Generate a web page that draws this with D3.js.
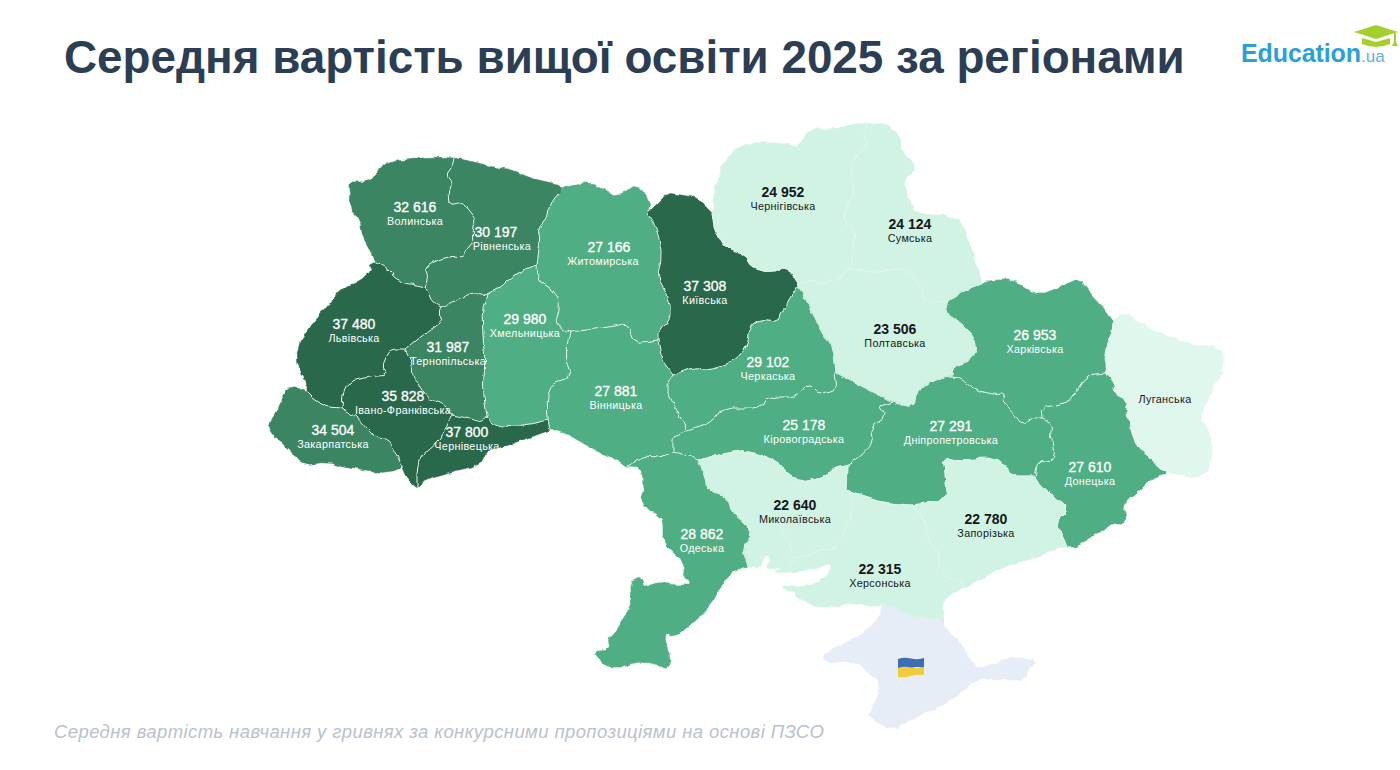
<!DOCTYPE html>
<html lang="uk">
<head>
<meta charset="utf-8">
<title>Середня вартість вищої освіти 2025 за регіонами</title>
<script src="https://cdn.jsdelivr.net/npm/d3@7/dist/d3.min.js"></script>
<style>
	html, body { margin: 0; padding: 0; background: #fff; }
	svg { display: block; font-family: "Liberation Sans", Arial, sans-serif; }
</style>
</head>
<body>
<svg id="chart" width="1400" height="770"></svg>
<script>
const regionNames = ["Волинська", "Рівненська", "Львівська", "Тернопільська", "Закарпатська", "Івано-Франківська", "Чернівецька", "Хмельницька", "Житомирська", "Вінницька", "Київська", "Чернігівська", "Сумська", "Полтавська", "Черкаська", "Кіровоградська", "Дніпропетровська", "Харківська", "Донецька", "Луганська", "Запорізька", "Херсонська", "Миколаївська", "Одеська"];
const regionCosts = [32616, 30197, 37480, 31987, 34504, 35828, 37800, 29980, 27166, 27881, 37308, 24952, 24124, 23506, 29102, 25178, 27291, 26953, 27610, null, 22780, 22315, 22640, 28862];

// map borders, shared between neighbours like topojson arcs
const arcs = {
	volOuter: [[454,158],[427,157],[417,159],[387,162],[377,173],[370,182],[346,182],[350,192],[349,208],[360,220],[363,237],[370,250],[375,262]],
	volLviv: [[375,262],[382,265],[392,272],[393,278],[403,283],[417,285],[425,287]],
	volRiv: [[425,287],[428,277],[425,268],[437,260],[453,256],[464,257],[468,247],[473,243],[472,228],[476,220],[468,210],[462,202],[450,205],[449,192],[452,183],[446,175],[452,167],[454,158]],
	rivOuter: [[454,158],[487,165],[493,167],[513,170],[530,178],[547,182],[562,185],[560,192]],
	rivZhy: [[560,192],[553,200],[550,208],[547,217],[538,228],[540,240],[537,265]],
	rivKhm: [[537,265],[523,270],[508,280],[500,288],[487,295]],
	rivTer: [[487,295],[473,292],[460,298],[442,307]],
	rivLviv: [[442,307],[432,302],[428,292],[425,287]],
	lvivOuter: [[375,262],[370,265],[372,270],[360,282],[343,287],[327,307],[310,327],[297,347],[298,367],[307,383],[307,392]],
	lvivZak: [[307,392],[315,400],[328,407],[342,408]],
	lvivIf: [[342,408],[343,393],[348,382],[368,377],[388,375],[382,367],[388,353],[393,350],[405,350]],
	lvivTer: [[405,350],[417,340],[427,332],[442,322],[440,313],[442,307]],
	terKhm: [[487,295],[482,310],[483,337],[485,363],[483,390],[487,417]],
	terChe: [[487,417],[480,422],[473,420],[463,417],[452,415]],
	terIf: [[452,415],[447,407],[437,402],[427,398],[418,383],[413,377],[412,363],[405,350]],
	zakOuter: [[307,392],[290,385],[283,397],[277,413],[268,423],[270,433],[290,450],[303,465],[327,462],[343,467],[377,473],[400,470],[400,462]],
	ifZak: [[342,408],[357,417],[365,427],[375,437],[388,440],[395,450],[400,462]],
	ifOuter: [[400,462],[407,478],[417,487]],
	ifChe: [[417,487],[417,470],[420,457],[437,442],[445,430],[452,415]],
	cheOuter: [[417,487],[427,478],[450,472],[480,465],[487,450],[503,447],[523,440],[550,430]],
	cheVin: [[550,430],[548,420]],
	cheKhm: [[548,420],[527,425],[510,425],[500,428],[487,417]],
	khmZhy: [[537,265],[538,280],[557,293],[560,310],[555,323],[563,330],[570,332]],
	khmVin: [[570,332],[565,352],[572,377],[552,383],[547,397],[548,420]],
	zhyOuter: [[560,192],[562,187],[572,186],[590,182],[602,188],[618,197],[637,183],[650,202],[648,212]],
	zhyKyi: [[648,212],[658,232],[662,257],[657,277],[670,300],[670,320],[658,330],[658,340]],
	zhyVin: [[658,340],[633,343],[628,323],[610,327],[570,332]],
	vinKyi: [[658,340],[662,360],[673,375]],
	vinChe: [[673,375],[665,387],[673,403],[687,430]],
	vinKir: [[687,430],[673,437],[673,452]],
	vinOde: [[673,452],[657,458],[642,457],[627,467]],
	vinOuter: [[627,467],[613,457],[600,453],[583,443],[560,430],[550,430]],
	kyiOuter: [[648,212],[667,193],[680,195],[697,198],[712,213]],
	kyiChn: [[712,213],[715,233],[727,250],[747,255],[750,267],[770,273],[787,265],[793,277],[798,285]],
	kyiChe: [[798,285],[793,293],[783,310],[777,322],[760,320],[750,327],[747,347],[733,362],[707,370],[693,367],[673,375]],
	chnOuter: [[712,213],[717,183],[723,163],[737,145],[773,142],[800,147],[812,127],[833,130],[855,123],[866,125]],
	chnSum: [[866,125],[863,137],[870,143],[853,158],[850,173],[855,190],[847,207],[843,223],[855,230],[853,250],[850,268]],
	chnPol: [[850,268],[840,278],[823,283],[807,280],[798,285]],
	sumOuter: [[866,125],[885,123],[900,135],[902,153],[918,167],[903,180],[910,203],[913,213],[957,217],[967,233],[973,253],[982,283]],
	sumKha: [[982,283],[967,290],[960,293],[948,302]],
	sumPol: [[948,302],[925,302],[920,287],[910,270],[890,270],[873,273],[850,268]],
	polKha: [[948,302],[945,312],[960,323],[975,338],[977,350],[970,360],[953,368],[952,377]],
	polDni: [[952,377],[942,378],[923,385],[917,393],[913,408],[893,402]],
	polKir: [[893,402],[863,387],[835,372]],
	polChe: [[835,372],[832,347],[823,333],[807,303],[798,285]],
	cheKir: [[835,372],[837,390],[820,395],[808,383],[797,397],[768,397],[763,408],[722,408],[713,422],[687,430]],
	kirDni: [[893,402],[877,407],[888,415],[870,427],[873,443],[860,457],[848,465]],
	kirMyk: [[848,465],[830,470],[827,477],[797,483],[780,463],[747,450],[727,453],[698,460]],
	kirOde: [[698,460],[687,455],[673,452]],
	dniKha: [[952,377],[960,378],[975,390],[997,395],[1005,393],[1003,402],[1013,412],[1022,425],[1030,418],[1043,418]],
	dniDon: [[1043,418],[1052,423],[1050,440],[1055,447],[1053,462],[1038,460],[1035,477]],
	dniZap: [[1035,477],[1012,477],[1003,462],[983,457],[967,462],[943,457],[945,473],[948,500],[912,505]],
	dniKhe: [[912,505],[887,503],[867,498],[847,490]],
	dniMyk: [[847,490],[848,465]],
	khaOuter: [[982,283],[993,280],[1013,280],[1023,287],[1040,295],[1060,287],[1080,278],[1090,293],[1103,307],[1113,322]],
	khaLuh: [[1113,322],[1112,333],[1103,353],[1107,367],[1105,373]],
	khaDon: [[1105,373],[1087,375],[1073,398],[1060,405],[1042,407],[1043,418]],
	donLuh: [[1105,373],[1115,385],[1113,393],[1127,400],[1127,417],[1132,433],[1137,447],[1153,460],[1157,467],[1167,470]],
	donOuter: [[1167,470],[1165,475],[1153,477],[1137,493],[1123,503],[1127,523],[1113,523],[1103,530],[1077,547],[1067,547]],
	donZap: [[1067,547],[1063,537],[1055,523],[1070,508],[1057,500],[1042,487],[1035,477]],
	luhOuter: [[1113,322],[1123,310],[1143,325],[1170,337],[1193,345],[1222,347],[1225,368],[1213,387],[1207,403],[1200,417],[1210,433],[1212,450],[1207,477],[1180,477],[1167,470]],
	zapOuter: [[1067,547],[1060,548],[1033,558],[1000,568],[980,580],[963,588]],
	zapKhe: [[912,505],[925,520],[928,540],[940,557],[938,567],[950,580],[963,580],[963,588]],
	kheCoastE: [[963,588],[947,597],[942,605],[943,625]],
	crimKhe: [[943,625],[938,617],[923,618],[897,610],[882,603]],
	kheCoast: [[882,603],[880,607],[860,603],[833,607],[817,607],[800,600],[793,592],[778,586],[803,586],[824,581],[833,563],[815,569],[795,572],[770,573],[790,566]],
	mykKhe: [[847,490],[852,500],[853,517],[843,530],[842,545],[813,553],[793,560],[790,566]],
	mykCoast: [[790,566],[780,569],[765,568],[772,557],[763,557],[760,568],[748,567]],
	odeMyk: [[698,460],[705,477],[707,490],[727,498],[732,513],[745,523],[753,535],[742,547],[748,567]],
	odeOuter: [[748,567],[730,573],[720,588],[707,610],[693,623],[673,638],[666,630],[665,643],[672,657],[668,670],[655,663],[633,662],[617,670],[600,662],[592,652],[610,650],[608,637],[618,630],[620,620],[633,603],[630,583],[642,577],[645,587],[658,582],[673,585],[692,585],[683,577],[685,563],[663,543],[663,520],[658,517],[640,502],[645,483],[640,468],[627,467]],
	crimOuter: [[943,625],[949,632],[960,643],[970,657],[978,670],[997,663],[1013,657],[1038,660],[1027,670],[1027,680],[997,680],[977,678],[953,700],[933,710],[910,720],[893,730],[868,718],[875,703],[880,690],[877,680],[853,660],[833,663],[820,658],[837,647],[863,633],[880,617],[882,603]]
};
const mykInner = [[793,560],[790,543],[783,532],[776,522]];

const regionRings = [
	["volOuter", "volLviv", "volRiv"],
	["rivOuter", "rivZhy", "rivKhm", "rivTer", "rivLviv", "volRiv"],
	["lvivOuter", "lvivZak", "lvivIf", "lvivTer", "rivLviv", "-volLviv"],
	["terKhm", "terChe", "terIf", "lvivTer", "-rivTer"],
	["zakOuter", "-ifZak", "-lvivZak"],
	["ifZak", "ifOuter", "ifChe", "terIf", "-lvivIf"],
	["cheOuter", "cheVin", "cheKhm", "terChe", "-ifChe"],
	["khmZhy", "khmVin", "cheKhm", "-terKhm", "-rivKhm"],
	["zhyOuter", "zhyKyi", "zhyVin", "-khmZhy", "-rivZhy"],
	["-zhyVin", "vinKyi", "vinChe", "vinKir", "vinOde", "vinOuter", "cheVin", "-khmVin"],
	["kyiOuter", "kyiChn", "kyiChe", "-vinKyi", "-zhyKyi"],
	["chnOuter", "chnSum", "chnPol", "-kyiChn"],
	["sumOuter", "sumKha", "sumPol", "-chnSum"],
	["-sumPol", "polKha", "polDni", "polKir", "polChe", "-chnPol"],
	["-kyiChe", "-polChe", "cheKir", "-vinChe"],
	["-cheKir", "-polKir", "kirDni", "kirMyk", "kirOde", "-vinKir"],
	["dniKha", "dniDon", "dniZap", "dniKhe", "dniMyk", "-kirDni", "-polDni"],
	["-sumKha", "khaOuter", "khaLuh", "khaDon", "-dniKha", "-polKha"],
	["-khaDon", "donLuh", "donOuter", "donZap", "-dniDon"],
	["luhOuter", "-donLuh", "-khaLuh"],
	["-dniZap", "-donZap", "zapOuter", "-zapKhe"],
	["-dniKhe", "zapKhe", "kheCoastE", "crimKhe", "kheCoast", "-mykKhe"],
	["-kirMyk", "-dniMyk", "mykKhe", "mykCoast", "-odeMyk"],
	["-kirOde", "odeMyk", "odeOuter", "-vinOde"]
];
const crimeaRing = ["-crimKhe", "crimOuter"];

// where the figures sit on the map, same order as regionNames
const labelSpots = [[415,212],[496,237],[354,329],[448,352],[333,435],[403,401],[467,437],[525,324],[609,252],[616,396],[705,291],[783,197],[910,229],[895,334],[768,367],[804,430],[951,431],[1035,340],[1090,472],[1165,395],[986,524],[880,574],[795,510],[702,539]];
const nameShift = { "Рівненська": 6, "Житомирська": -6 };

const color = d3.scaleThreshold()
	.domain([25000, 30000, 35000])
	.range(["#d0f3e3", "#4fae83", "#3a8563", "#2a684c"]);
const fillOf = (v) => (v === null ? "#e0f7ed" : color(v));
const isPale = (v) => v === null || v < 25000;

// round the hand traced corners a little, ends stay put so neighbours still meet
const soften = (line) => {
	const out = [line[0]];
	d3.pairs(line).forEach(([a, b]) => {
		out.push([a[0] * 0.75 + b[0] * 0.25, a[1] * 0.75 + b[1] * 0.25]);
		out.push([a[0] * 0.25 + b[0] * 0.75, a[1] * 0.25 + b[1] * 0.75]);
	});
	out.push(line[line.length - 1]);
	return out;
};
const softArcs = {};
Object.keys(arcs).forEach((k) => { softArcs[k] = soften(arcs[k]); });

const svg = d3.select("#chart");
const path = d3.geoPath(d3.geoIdentity());

const ringCoords = (ring) => {
	const out = [];
	ring.forEach((name) => {
		const line = name[0] === "-" ? softArcs[name.slice(1)].slice().reverse() : softArcs[name];
		line.forEach((p) => out.push(p));
	});
	return out;
};
const polygon = (ring) => ({ type: "Polygon", coordinates: [ringCoords(ring)] });

// rough edge on the whole map, the source outline is very wiggly
const rough = svg.append("defs").append("filter")
	.attr("id", "rough")
	.attr("filterUnits", "userSpaceOnUse")
	.attr("x", 0).attr("y", 0).attr("width", 1400).attr("height", 770);
rough.append("feTurbulence")
	.attr("type", "fractalNoise")
	.attr("baseFrequency", 0.11)
	.attr("numOctaves", 2)
	.attr("seed", 4)
	.attr("result", "noise");
rough.append("feDisplacementMap")
	.attr("in", "SourceGraphic")
	.attr("in2", "noise")
	.attr("scale", 5)
	.attr("xChannelSelector", "R")
	.attr("yChannelSelector", "G");

const map = svg.append("g").attr("filter", "url(#rough)");

map.append("path")
	.attr("d", path(polygon(crimeaRing)))
	.attr("fill", "#e6edf6")
	.attr("stroke", "#e6edf6")
	.attr("stroke-width", 0.6);

map.append("g")
	.selectAll("path")
	.data(regionNames)
	.enter()
	.append("path")
	.attr("d", (d, i) => path(polygon(regionRings[i])))
	.attr("fill", (d, i) => fillOf(regionCosts[i]))
	.attr("stroke", (d, i) => fillOf(regionCosts[i]))
	.attr("stroke-width", 0.6)
	.attr("stroke-linejoin", "round");

// inner borders are the arcs that two regions use
const useCount = {};
regionRings.forEach((ring) => ring.forEach((name) => {
	const key = name.replace("-", "");
	useCount[key] = (useCount[key] || 0) + 1;
}));
const innerLines = Object.keys(useCount).filter((k) => useCount[k] > 1).map((k) => softArcs[k]);
innerLines.push(soften(mykInner));

map.append("path")
	.attr("d", path({ type: "MultiLineString", coordinates: innerLines }))
	.attr("fill", "none")
	.attr("stroke", "#e4f6ee")
	.attr("stroke-width", 1)
	.attr("stroke-linejoin", "round");

// labels
const labels = svg.append("g").attr("text-anchor", "middle");
regionNames.forEach((name, i) => {
	const v = regionCosts[i];
	const ink = isPale(v) ? "#14181c" : "#ffffff";
	if (v !== null) {
		labels.append("text")
			.attr("x", labelSpots[i][0])
			.attr("y", labelSpots[i][1])
			.attr("fill", ink)
			.attr("stroke", ink)
			.attr("stroke-width", isPale(v) ? 0 : 0.3)
			.attr("font-size", 14)
			.attr("font-weight", isPale(v) ? 700 : 400)
			.text(d3.format(",")(v).replace(",", " "));
	}
	labels.append("text")
		.attr("x", labelSpots[i][0] + (nameShift[name] || 0))
		.attr("y", v === null ? labelSpots[i][1] + 8 : labelSpots[i][1] + 13)
		.attr("fill", ink)
		.attr("font-size", 10.8)
		.attr("letter-spacing", 0.3)
		.text(name);
});

// ukrainian flag on crimea
const flag = svg.append("g").attr("transform", "translate(898,658)");
flag.append("path").attr("d", "M0,1 Q6,-1 13,0.5 T26,0 L26,10 Q19,8 13,10 T0,11 Z").attr("fill", "#3d6fb0");
flag.append("path").attr("d", "M0,10 Q6,8 13,9.5 T26,9 L26,17 Q19,16 13,18 T0,19 Z").attr("fill", "#f3cb3a");

// title, footnote
svg.append("text")
	.attr("x", 64)
	.attr("y", 73)
	.attr("fill", "#2b3e54")
	.attr("font-size", 45.8)
	.attr("font-weight", 700)
	.text("Середня вартість вищої освіти 2025 за регіонами");

svg.append("text")
	.attr("x", 54)
	.attr("y", 738)
	.attr("fill", "#b9c1cd")
	.attr("font-size", 18.5)
	.attr("font-style", "italic")
	.attr("letter-spacing", 0.4)
	.text("Середня вартість навчання у гривнях за конкурсними пропозиціями на основі ПЗСО");

// logo
const logo = svg.append("g");
logo.append("text")
	.attr("x", 1241)
	.attr("y", 62)
	.attr("fill", "#2b9fdc")
	.attr("font-size", 25)
	.attr("font-weight", 700)
	.attr("letter-spacing", -0.1)
	.text("Education");
logo.append("text")
	.attr("x", 1361)
	.attr("y", 62)
	.attr("fill", "#5cb3df")
	.attr("font-size", 17)
	.text(".ua");
logo.append("path").attr("d", "M1354,32 L1376,25 L1398,32 L1376,39 Z").attr("fill", "#a5cf2d");
logo.append("path").attr("d", "M1362,38 L1376,42 L1390,38 L1390,44 Q1376,50 1362,44 Z").attr("fill", "#a5cf2d");
logo.append("path").attr("d", "M1394,33 L1396,33 L1396,42 L1398,46 L1392,46 L1394,42 Z").attr("fill", "#a5cf2d");
</script>
</body>
</html>
